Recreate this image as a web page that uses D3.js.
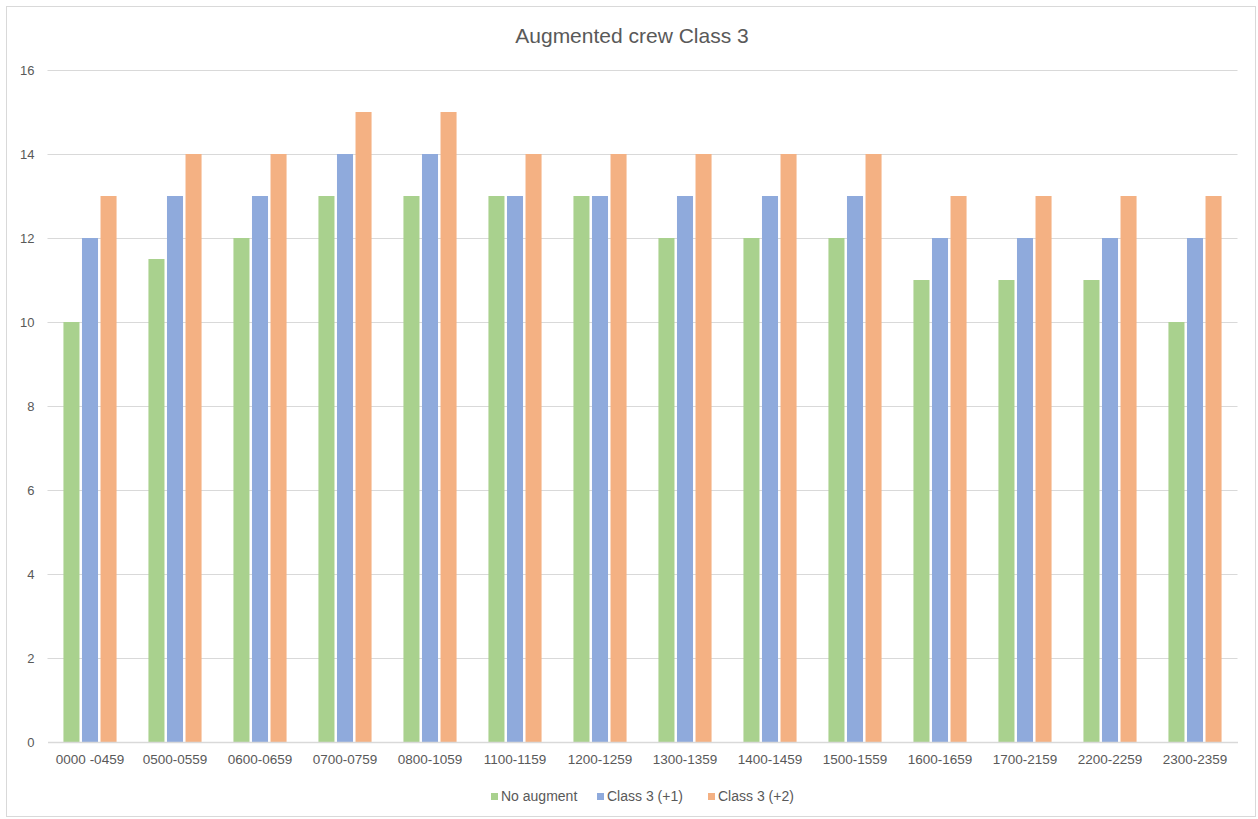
<!DOCTYPE html>
<html><head><meta charset="utf-8">
<script src="https://cdn.jsdelivr.net/npm/d3@7"></script>
<style>body{margin:0;background:#fff;}svg{display:block;font-family:"Liberation Sans",Arial,sans-serif;}</style>
</head><body><svg id="c" width="1258" height="819"></svg>
<script>
const categories = ["0000 -0459","0500-0559","0600-0659","0700-0759","0800-1059","1100-1159","1200-1259","1300-1359","1400-1459","1500-1559","1600-1659","1700-2159","2200-2259","2300-2359"];
const seriesNames = ["No augment","Class 3 (+1)","Class 3 (+2)"];
const noAugment = [10,11.5,12,13,13,13,13,12,12,12,11,11,11,10];
const class3p1 = [12,13,13,14,14,13,13,13,13,13,12,12,12,12];
const class3p2 = [13,14,14,15,15,14,14,14,14,14,13,13,13,13];
const yTicks = [0,2,4,6,8,10,12,14,16];
const colors = ["#a9d18e","#8faadc","#f4b183"];
const title = "Augmented crew Class 3";

const series = [noAugment, class3p1, class3p2];
const svg = d3.select("#c");
const W = 1258, H = 819;
const m = {left:47.5, right:20.5, top:70, bottom:77};

svg.append("rect").attr("x",6.5).attr("y",6.5).attr("width",W-9).attr("height",H-9)
  .attr("fill","#fff").attr("stroke","#d9d9d9").attr("stroke-width",1);

const x = d3.scaleBand().domain(categories).range([m.left, W-m.right]).paddingInner(0).paddingOuter(0);
const x1 = d3.scaleBand().domain(seriesNames).range([0, x.bandwidth()]).paddingInner(0.135).paddingOuter(0.86);
const y = d3.scaleLinear().domain([0,16]).range([H-m.bottom, m.top]);

// gridlines
svg.append("g").selectAll("line").data(yTicks.filter(d=>d>0)).join("line")
  .attr("x1",m.left).attr("x2",W-m.right)
  .attr("y1",d=>Math.round(y(d))+0.5).attr("y2",d=>Math.round(y(d))+0.5)
  .attr("stroke","#d9d9d9").attr("stroke-width",1);

// y axis labels
const yAxis = d3.axisLeft(y).tickValues(yTicks).tickSize(0).tickPadding(13);
const gy = svg.append("g").attr("transform",`translate(${m.left},0)`).call(yAxis);
gy.select(".domain").remove();
gy.selectAll("text").attr("fill","#595959").style("font-size","13px");

// bars
const groups = svg.append("g").selectAll("g").data(categories).join("g")
  .attr("transform",d=>`translate(${x(d)},0)`);
groups.selectAll("rect").data((d,i)=>series.map((s,j)=>({name:seriesNames[j],v:s[i],c:colors[j]}))).join("rect")
  .attr("x",d=>x1(d.name)).attr("width",x1.bandwidth())
  .attr("y",d=>y(d.v)).attr("height",d=>y(0)-y(d.v))
  .attr("fill",d=>d.c);

// x axis
const xAxis = d3.axisBottom(x).tickSize(0).tickPadding(12);
const gx = svg.append("g").attr("transform",`translate(0,${y(0)})`).call(xAxis);
gx.select(".domain").attr("stroke","#d9d9d9").attr("stroke-width",1.5);
gx.selectAll("text").attr("fill","#595959").style("font-size","13.5px");

// title
svg.append("text").attr("x",632).attr("y",43).attr("text-anchor","middle")
  .attr("fill","#595959").style("font-size","21px").text(title);

// legend
const legendX = [491, 597, 708];
const lg = svg.append("g").selectAll("g").data(seriesNames).join("g")
  .attr("transform",(d,i)=>`translate(${legendX[i]},798)`);
lg.append("rect").attr("x",0).attr("y",-5).attr("width",7).attr("height",7).attr("fill",(d,i)=>colors[i]);
lg.append("text").attr("x",10).attr("y",3).attr("fill","#595959").style("font-size","14px").text(d=>d);
</script></body></html>
